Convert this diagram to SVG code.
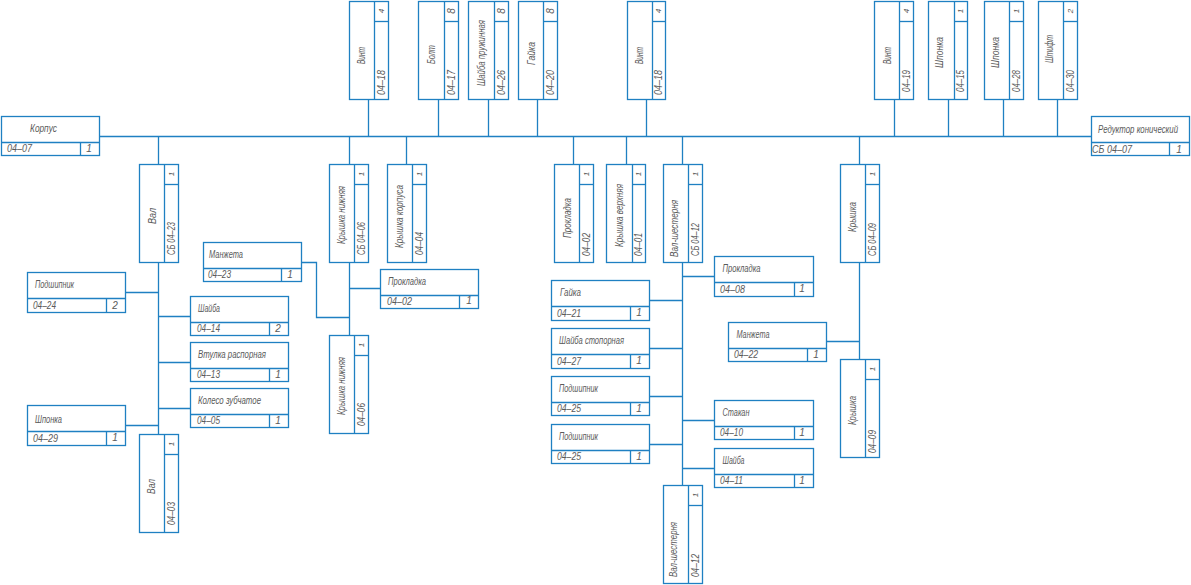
<svg xmlns="http://www.w3.org/2000/svg" width="1191" height="585" viewBox="0 0 1191 585">
<style>
rect{fill:#fff;stroke:#1f80c2;stroke-width:1.3}
line,path{fill:none;stroke:#1f80c2;stroke-width:1.3}
text{font-family:"Liberation Sans",Arial,sans-serif;font-style:italic;font-size:10px;fill:#5a5a5a}
.q{text-anchor:middle}
.r{font-size:8px}
</style>
<rect x="0" y="0" width="1191" height="585" style="fill:#fff;stroke:none"/>
<g id="connectors">
<path d="M99.5 136.5H1091"/>
<path d="M368.5 99.5V136.5M438.5 99.5V136.5M488.5 99.5V136.5M537.5 99.5V136.5M646.5 99.5V136.5M894.5 99.5V136.5M948.5 99.5V136.5M1003.5 99.5V136.5M1057.5 99.5V136.5"/>
<path d="M158.5 136.5V164.5M158.5 262.5V434.5M125.5 292.5H158.5M125.5 425.5H158.5M158.5 316.5H190.5M158.5 362.5H190.5M158.5 408.5H190.5"/>
<path d="M349.5 136.5V164.5M349.5 262.5V335.5M349.5 288.5H380.5M300.5 262.5H316.5V317.5H349.5"/>
<path d="M406.5 136.5V164.5M573.5 136.5V164.5M626.5 136.5V164.5"/>
<path d="M682.5 136.5V164.5M682.5 262.5V485.5M682.5 276.5H714.5M649.5 300.5H682.5M649.5 348.5H682.5M649.5 396.5H682.5M649.5 444.5H682.5M682.5 420.5H714.5M682.5 468.5H714.5"/>
<path d="M859.5 136.5V164.5M859.5 262.5V359.5M826.5 341.5H859.5"/>
</g>
<g id="n-korpus"><rect x="1.5" y="116.5" width="98" height="39"/><line x1="1.5" y1="142.5" x2="99.5" y2="142.5"/><line x1="80.5" y1="142.5" x2="80.5" y2="155.5"/><text x="30" y="132" textLength="27" lengthAdjust="spacingAndGlyphs">Корпус</text><text x="7" y="152" textLength="25" lengthAdjust="spacingAndGlyphs">04–07</text><text class="q" x="89" y="152">1</text></g>
<g id="n-reduktor"><rect x="1091.5" y="116.5" width="98" height="39"/><line x1="1091.5" y1="142.5" x2="1189.5" y2="142.5"/><line x1="1169.5" y1="142.5" x2="1169.5" y2="155.5"/><text transform="translate(1098 133) scale(0.8 1)" textLength="100" lengthAdjust="spacingAndGlyphs">Редуктор конический</text><text x="1092" y="153" textLength="40" lengthAdjust="spacingAndGlyphs">СБ 04–07</text><text class="q" x="1179" y="153">1</text></g>
<g id="n-manzheta1"><rect x="203.5" y="242.5" width="98" height="39"/><line x1="203.5" y1="268.5" x2="301.5" y2="268.5"/><line x1="281.5" y1="268.5" x2="281.5" y2="281.5"/><text x="209" y="258" textLength="34" lengthAdjust="spacingAndGlyphs">Манжета</text><text x="208" y="278" textLength="23" lengthAdjust="spacingAndGlyphs">04–23</text><text class="q" x="290" y="278">1</text></g>
<g id="n-podsh24"><rect x="27.5" y="272.5" width="98" height="40"/><line x1="27.5" y1="298.5" x2="125.5" y2="298.5"/><line x1="106.5" y1="298.5" x2="106.5" y2="312.5"/><text x="35" y="288" textLength="39" lengthAdjust="spacingAndGlyphs">Подшипник</text><text x="33" y="309" textLength="23" lengthAdjust="spacingAndGlyphs">04–24</text><text class="q" x="115" y="309">2</text></g>
<g id="n-shayba14"><rect x="190.5" y="296.5" width="98" height="39"/><line x1="190.5" y1="322.5" x2="288.5" y2="322.5"/><line x1="269.5" y1="322.5" x2="269.5" y2="335.5"/><text x="198" y="312" textLength="22" lengthAdjust="spacingAndGlyphs">Шайба</text><text x="197" y="332" textLength="23" lengthAdjust="spacingAndGlyphs">04–14</text><text class="q" x="278" y="332">2</text></g>
<g id="n-vtulka"><rect x="190.5" y="342.5" width="98" height="39"/><line x1="190.5" y1="368.5" x2="288.5" y2="368.5"/><line x1="269.5" y1="368.5" x2="269.5" y2="381.5"/><text x="198" y="358" textLength="68" lengthAdjust="spacingAndGlyphs">Втулка распорная</text><text x="197" y="378" textLength="23" lengthAdjust="spacingAndGlyphs">04–13</text><text class="q" x="278" y="378">1</text></g>
<g id="n-koleso"><rect x="190.5" y="388.5" width="98" height="39"/><line x1="190.5" y1="414.5" x2="288.5" y2="414.5"/><line x1="269.5" y1="414.5" x2="269.5" y2="427.5"/><text x="198" y="404" textLength="63" lengthAdjust="spacingAndGlyphs">Колесо зубчатое</text><text x="197" y="424" textLength="23" lengthAdjust="spacingAndGlyphs">04–05</text><text class="q" x="278" y="424">1</text></g>
<g id="n-shponka29"><rect x="27.5" y="405.5" width="98" height="40"/><line x1="27.5" y1="431.5" x2="125.5" y2="431.5"/><line x1="106.5" y1="431.5" x2="106.5" y2="445.5"/><text x="35" y="423" textLength="27" lengthAdjust="spacingAndGlyphs">Шпонка</text><text x="33" y="442" textLength="25" lengthAdjust="spacingAndGlyphs">04–29</text><text class="q" x="115" y="441">1</text></g>
<g id="n-prokl02h"><rect x="380.5" y="269.5" width="98" height="39"/><line x1="380.5" y1="295.5" x2="478.5" y2="295.5"/><line x1="459.5" y1="295.5" x2="459.5" y2="308.5"/><text x="388" y="285" textLength="38" lengthAdjust="spacingAndGlyphs">Прокладка</text><text x="387" y="305" textLength="25" lengthAdjust="spacingAndGlyphs">04–02</text><text class="q" x="469" y="304">1</text></g>
<g id="n-gayka21"><rect x="551.5" y="280.5" width="98" height="40"/><line x1="551.5" y1="306.5" x2="649.5" y2="306.5"/><line x1="630.5" y1="306.5" x2="630.5" y2="320.5"/><text x="560" y="296" textLength="21" lengthAdjust="spacingAndGlyphs">Гайка</text><text x="557" y="317" textLength="24" lengthAdjust="spacingAndGlyphs">04–21</text><text class="q" x="639" y="316">1</text></g>
<g id="n-shaybastop"><rect x="551.5" y="328.5" width="98" height="40"/><line x1="551.5" y1="354.5" x2="649.5" y2="354.5"/><line x1="630.5" y1="354.5" x2="630.5" y2="368.5"/><text x="559" y="344" textLength="65" lengthAdjust="spacingAndGlyphs">Шайба стопорная</text><text x="557" y="365" textLength="24" lengthAdjust="spacingAndGlyphs">04–27</text><text class="q" x="639" y="364">1</text></g>
<g id="n-podsh25a"><rect x="551.5" y="376.5" width="98" height="39"/><line x1="551.5" y1="402.5" x2="649.5" y2="402.5"/><line x1="630.5" y1="402.5" x2="630.5" y2="415.5"/><text x="559" y="392" textLength="39" lengthAdjust="spacingAndGlyphs">Подшипник</text><text x="557" y="412" textLength="24" lengthAdjust="spacingAndGlyphs">04–25</text><text class="q" x="639" y="412">1</text></g>
<g id="n-podsh25b"><rect x="551.5" y="424.5" width="98" height="39"/><line x1="551.5" y1="450.5" x2="649.5" y2="450.5"/><line x1="630.5" y1="450.5" x2="630.5" y2="463.5"/><text x="559" y="440" textLength="39" lengthAdjust="spacingAndGlyphs">Подшипник</text><text x="557" y="460" textLength="24" lengthAdjust="spacingAndGlyphs">04–25</text><text class="q" x="639" y="460">1</text></g>
<g id="n-prokl08"><rect x="714.5" y="256.5" width="99" height="40"/><line x1="714.5" y1="282.5" x2="813.5" y2="282.5"/><line x1="794.5" y1="282.5" x2="794.5" y2="296.5"/><text x="722.5" y="272" textLength="38" lengthAdjust="spacingAndGlyphs">Прокладка</text><text x="720" y="293" textLength="25" lengthAdjust="spacingAndGlyphs">04–08</text><text class="q" x="802" y="292">1</text></g>
<g id="n-manzheta22"><rect x="728.5" y="322.5" width="98" height="39"/><line x1="728.5" y1="348.5" x2="826.5" y2="348.5"/><line x1="807.5" y1="348.5" x2="807.5" y2="361.5"/><text x="736.5" y="338" textLength="33" lengthAdjust="spacingAndGlyphs">Манжета</text><text x="734" y="358" textLength="24" lengthAdjust="spacingAndGlyphs">04–22</text><text class="q" x="816" y="358">1</text></g>
<g id="n-stakan"><rect x="714.5" y="400.5" width="99" height="39"/><line x1="714.5" y1="426.5" x2="813.5" y2="426.5"/><line x1="794.5" y1="426.5" x2="794.5" y2="439.5"/><text x="722.5" y="416" textLength="27" lengthAdjust="spacingAndGlyphs">Стакан</text><text x="720" y="436" textLength="23" lengthAdjust="spacingAndGlyphs">04–10</text><text class="q" x="802" y="436">1</text></g>
<g id="n-shayba11"><rect x="714.5" y="448.5" width="99" height="39"/><line x1="714.5" y1="474.5" x2="813.5" y2="474.5"/><line x1="794.5" y1="474.5" x2="794.5" y2="487.5"/><text x="722.5" y="464" textLength="22" lengthAdjust="spacingAndGlyphs">Шайба</text><text x="720" y="484" textLength="23" lengthAdjust="spacingAndGlyphs">04–11</text><text class="q" x="802" y="484">1</text></g>

<g id="n-vint18a"><rect x="349.5" y="1.5" width="39" height="98"/><line x1="374.5" y1="1.5" x2="374.5" y2="99.5"/><line x1="374.5" y1="21.5" x2="388.5" y2="21.5"/><text transform="translate(365 64) rotate(-90)" textLength="17" lengthAdjust="spacingAndGlyphs">Винт</text><text transform="translate(385 95) rotate(-90)" textLength="25" lengthAdjust="spacingAndGlyphs">04–18</text><text class="q r" transform="translate(384 11) rotate(-90)">4</text></g>
<g id="n-bolt"><rect x="418.5" y="1.5" width="40" height="98"/><line x1="444.5" y1="1.5" x2="444.5" y2="99.5"/><line x1="444.5" y1="21.5" x2="458.5" y2="21.5"/><text transform="translate(435 64) rotate(-90)" textLength="19" lengthAdjust="spacingAndGlyphs">Болт</text><text transform="translate(455 95) rotate(-90)" textLength="25" lengthAdjust="spacingAndGlyphs">04–17</text><text class="q" transform="translate(455 11) rotate(-90)">8</text></g>
<g id="n-shaybapr"><rect x="468.5" y="1.5" width="40" height="98"/><line x1="494.5" y1="1.5" x2="494.5" y2="99.5"/><line x1="494.5" y1="21.5" x2="508.5" y2="21.5"/><text transform="translate(485 86) rotate(-90)" textLength="66" lengthAdjust="spacingAndGlyphs">Шайба пружинная</text><text transform="translate(505 95) rotate(-90)" textLength="25" lengthAdjust="spacingAndGlyphs">04–26</text><text class="q" transform="translate(505 11) rotate(-90)">8</text></g>
<g id="n-gayka20"><rect x="518.5" y="1.5" width="39" height="98"/><line x1="543.5" y1="1.5" x2="543.5" y2="99.5"/><line x1="543.5" y1="21.5" x2="557.5" y2="21.5"/><text transform="translate(535 65) rotate(-90)" textLength="23" lengthAdjust="spacingAndGlyphs">Гайка</text><text transform="translate(554 95) rotate(-90)" textLength="25" lengthAdjust="spacingAndGlyphs">04–20</text><text class="q" transform="translate(554 11) rotate(-90)">8</text></g>
<g id="n-vint18b"><rect x="627.5" y="1.5" width="38" height="98"/><line x1="652.5" y1="1.5" x2="652.5" y2="99.5"/><line x1="652.5" y1="21.5" x2="665.5" y2="21.5"/><text transform="translate(643 64) rotate(-90)" textLength="17" lengthAdjust="spacingAndGlyphs">Винт</text><text transform="translate(662 95) rotate(-90)" textLength="25" lengthAdjust="spacingAndGlyphs">04–18</text><text class="q r" transform="translate(661 11) rotate(-90)">4</text></g>
<g id="n-vint19"><rect x="874.5" y="1.5" width="39" height="98"/><line x1="899.5" y1="1.5" x2="899.5" y2="99.5"/><line x1="899.5" y1="21.5" x2="913.5" y2="21.5"/><text transform="translate(890.5 64) rotate(-90)" textLength="17" lengthAdjust="spacingAndGlyphs">Винт</text><text transform="translate(910 92) rotate(-90)" textLength="22" lengthAdjust="spacingAndGlyphs">04–19</text><text class="q r" transform="translate(909 11) rotate(-90)">4</text></g>
<g id="n-shponka15"><rect x="928.5" y="1.5" width="39" height="98"/><line x1="954.5" y1="1.5" x2="954.5" y2="99.5"/><line x1="954.5" y1="21.5" x2="967.5" y2="21.5"/><text transform="translate(943 68) rotate(-90)" textLength="31" lengthAdjust="spacingAndGlyphs">Шпонка</text><text transform="translate(964 92) rotate(-90)" textLength="22" lengthAdjust="spacingAndGlyphs">04–15</text><text class="q r" transform="translate(963 11) rotate(-90)">1</text></g>
<g id="n-shponka28"><rect x="984.5" y="1.5" width="39" height="98"/><line x1="1009.5" y1="1.5" x2="1009.5" y2="99.5"/><line x1="1009.5" y1="21.5" x2="1023.5" y2="21.5"/><text transform="translate(999 68) rotate(-90)" textLength="31" lengthAdjust="spacingAndGlyphs">Шпонка</text><text transform="translate(1020 92) rotate(-90)" textLength="22" lengthAdjust="spacingAndGlyphs">04–28</text><text class="q r" transform="translate(1019 11) rotate(-90)">1</text></g>
<g id="n-shtift"><rect x="1038.5" y="1.5" width="39" height="98"/><line x1="1063.5" y1="1.5" x2="1063.5" y2="99.5"/><line x1="1063.5" y1="21.5" x2="1077.5" y2="21.5"/><text transform="translate(1053 63) rotate(-90)" textLength="28" lengthAdjust="spacingAndGlyphs">Штифт</text><text transform="translate(1074 92) rotate(-90)" textLength="22" lengthAdjust="spacingAndGlyphs">04–30</text><text class="q r" transform="translate(1073 11) rotate(-90)">2</text></g>

<g id="n-val-sb"><rect x="139.5" y="164.5" width="39" height="98"/><line x1="164.5" y1="164.5" x2="164.5" y2="262.5"/><line x1="164.5" y1="184.5" x2="178.5" y2="184.5"/><text transform="translate(156 224) rotate(-90)" textLength="16" lengthAdjust="spacingAndGlyphs">Вал</text><text transform="translate(175 255) rotate(-90)" textLength="33" lengthAdjust="spacingAndGlyphs">СБ 04–23</text><text class="q r" transform="translate(174 174) rotate(-90)">1</text></g>
<g id="n-val"><rect x="139.5" y="434.5" width="39" height="98"/><line x1="164.5" y1="434.5" x2="164.5" y2="532.5"/><line x1="164.5" y1="454.5" x2="178.5" y2="454.5"/><text transform="translate(155 494) rotate(-90)" textLength="15" lengthAdjust="spacingAndGlyphs">Вал</text><text transform="translate(175 525) rotate(-90)" textLength="23" lengthAdjust="spacingAndGlyphs">04–03</text><text class="q r" transform="translate(174 444) rotate(-90)">1</text></g>
<g id="n-kn-sb"><rect x="329.5" y="164.5" width="39" height="98"/><line x1="354.5" y1="164.5" x2="354.5" y2="262.5"/><line x1="354.5" y1="184.5" x2="368.5" y2="184.5"/><text transform="translate(345 244) rotate(-90)" textLength="58" lengthAdjust="spacingAndGlyphs">Крышка нижняя</text><text transform="translate(365 255) rotate(-90)" textLength="33" lengthAdjust="spacingAndGlyphs">СБ 04–06</text><text class="q r" transform="translate(364 174) rotate(-90)">1</text></g>
<g id="n-kn"><rect x="329.5" y="335.5" width="39" height="98"/><line x1="354.5" y1="335.5" x2="354.5" y2="433.5"/><line x1="354.5" y1="355.5" x2="368.5" y2="355.5"/><text transform="translate(345 415) rotate(-90)" textLength="58" lengthAdjust="spacingAndGlyphs">Крышка нижняя</text><text transform="translate(365 426) rotate(-90)" textLength="23" lengthAdjust="spacingAndGlyphs">04–06</text><text class="q r" transform="translate(364 345) rotate(-90)">1</text></g>
<g id="n-kk"><rect x="387.5" y="164.5" width="39" height="98"/><line x1="412.5" y1="164.5" x2="412.5" y2="262.5"/><line x1="412.5" y1="184.5" x2="426.5" y2="184.5"/><text transform="translate(403 248) rotate(-90)" textLength="63" lengthAdjust="spacingAndGlyphs">Крышка корпуса</text><text transform="translate(423 255) rotate(-90)" textLength="23" lengthAdjust="spacingAndGlyphs">04–04</text><text class="q r" transform="translate(422 174) rotate(-90)">1</text></g>
<g id="n-prokl02v"><rect x="554.5" y="164.5" width="39" height="98"/><line x1="579.5" y1="164.5" x2="579.5" y2="262.5"/><line x1="579.5" y1="184.5" x2="593.5" y2="184.5"/><text transform="translate(571 238) rotate(-90)" textLength="40" lengthAdjust="spacingAndGlyphs">Прокладка</text><text transform="translate(590 256) rotate(-90)" textLength="23" lengthAdjust="spacingAndGlyphs">04–02</text><text class="q r" transform="translate(589 174) rotate(-90)">1</text></g>
<g id="n-kv"><rect x="606.5" y="164.5" width="39" height="98"/><line x1="632.5" y1="164.5" x2="632.5" y2="262.5"/><line x1="632.5" y1="184.5" x2="645.5" y2="184.5"/><text transform="translate(622.5 247) rotate(-90)" textLength="63" lengthAdjust="spacingAndGlyphs">Крышка верхняя</text><text transform="translate(642 256) rotate(-90)" textLength="23" lengthAdjust="spacingAndGlyphs">04–01</text><text class="q r" transform="translate(641 174) rotate(-90)">1</text></g>
<g id="n-vsh-sb"><rect x="663.5" y="164.5" width="39" height="98"/><line x1="688.5" y1="164.5" x2="688.5" y2="262.5"/><line x1="688.5" y1="184.5" x2="702.5" y2="184.5"/><text transform="translate(678 257) rotate(-90)" textLength="57" lengthAdjust="spacingAndGlyphs">Вал-шестерня</text><text transform="translate(699 256) rotate(-90)" textLength="33" lengthAdjust="spacingAndGlyphs">СБ 04–12</text><text class="q r" transform="translate(698 174) rotate(-90)">1</text></g>
<g id="n-vsh"><rect x="663.5" y="485.5" width="39" height="98"/><line x1="688.5" y1="485.5" x2="688.5" y2="583.5"/><line x1="688.5" y1="505.5" x2="702.5" y2="505.5"/><text transform="translate(677 577) rotate(-90)" textLength="55" lengthAdjust="spacingAndGlyphs">Вал-шестерня</text><text transform="translate(699 577) rotate(-90)" textLength="23" lengthAdjust="spacingAndGlyphs">04–12</text><text class="q r" transform="translate(698 495) rotate(-90)">1</text></g>
<g id="n-kr-sb"><rect x="840.5" y="164.5" width="39" height="98"/><line x1="865.5" y1="164.5" x2="865.5" y2="262.5"/><line x1="865.5" y1="184.5" x2="879.5" y2="184.5"/><text transform="translate(856 232) rotate(-90)" textLength="30" lengthAdjust="spacingAndGlyphs">Крышка</text><text transform="translate(876 256) rotate(-90)" textLength="33" lengthAdjust="spacingAndGlyphs">СБ 04–09</text><text class="q r" transform="translate(875 174) rotate(-90)">1</text></g>
<g id="n-kr"><rect x="840.5" y="359.5" width="39" height="98"/><line x1="865.5" y1="359.5" x2="865.5" y2="457.5"/><line x1="865.5" y1="379.5" x2="879.5" y2="379.5"/><text transform="translate(856 425) rotate(-90)" textLength="29" lengthAdjust="spacingAndGlyphs">Крышка</text><text transform="translate(876 453) rotate(-90)" textLength="23" lengthAdjust="spacingAndGlyphs">04–09</text><text class="q r" transform="translate(875 369) rotate(-90)">1</text></g>
</svg>
